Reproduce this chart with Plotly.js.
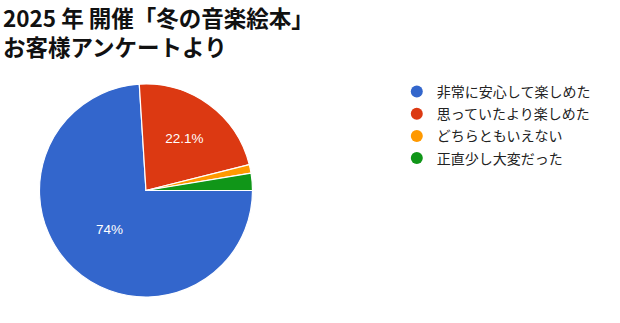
<!DOCTYPE html>
<html><head><meta charset="utf-8">
<script src="https://cdn.plot.ly/plotly-3.0.1.min.js"></script>
<style>html,body{margin:0;padding:0;background:#fff;}</style>
</head><body>
<div id="chart" style="width:620px;height:323px;"></div>
<script>
const titleLines = ['2025 年 開催「冬の音楽絵本」', 'お客様アンケートより'];
const categories = ['非常に安心して楽しめた', '思っていたより楽しめた', 'どちらともいえない', '正直少し大変だった'];
const values = [74, 22.1, 1.3, 2.6];
const colors = ['#3366cc', '#dc3912', '#ff9900', '#109618'];
const labelTemplates = ['%{percent}', '%{percent}', '', ''];

const traces = [{
  type: 'pie',
  labels: categories,
  values: values,
  sort: false,
  direction: 'clockwise',
  rotation: 90,
  marker: {colors: colors, line: {color: '#ffffff', width: 1.2}},
  texttemplate: labelTemplates,
  textposition: 'inside',
  insidetextorientation: 'horizontal',
  textfont: {family: 'Arial, "Liberation Sans", sans-serif', size: 13.5, color: '#ffffff'},
  hoverinfo: 'none',
  showlegend: false,
  domain: {x: [0.0629, 0.408], y: [0.0805, 0.74]}
}];
categories.forEach((c, i) => {
  traces.push({
    type: 'scatter', mode: 'markers', x: [null], y: [null], name: c,
    legendgroup: 'g' + i,
    marker: {color: colors[i], size: 13, symbol: 'circle'},
    showlegend: true, hoverinfo: 'none'
  });
});

const titleFont = {family: '"Noto Sans CJK JP", sans-serif', size: 22.5, color: '#111111', weight: 'bold'};
const layout = {
  width: 620, height: 323,
  margin: {l: 0, r: 0, t: 0, b: 0},
  paper_bgcolor: '#ffffff', plot_bgcolor: '#ffffff',
  annotations: [{
    text: titleLines.join('<br>'), xref: 'paper', yref: 'paper', x: 0.0, xanchor: 'left', align: 'left',
    y: 1.0, yanchor: 'top', showarrow: false, borderpad: 0,
    font: titleFont, xshift: 2
  }],
  xaxis: {visible: false, domain: [0.9, 1]},
  yaxis: {visible: false, domain: [0.9, 1]},
  legend: {
    x: 0.64, xanchor: 'left', y: 0.765, yanchor: 'top',
    font: {family: '"Noto Sans CJK JP", Roboto, sans-serif', size: 14, color: '#222222'},
    itemsizing: 'constant', bgcolor: 'rgba(0,0,0,0)', tracegroupgap: 1
  },
  showlegend: true
};
Plotly.newPlot('chart', traces, layout, {displayModeBar: false, staticPlot: true});
</script>
</body></html>
